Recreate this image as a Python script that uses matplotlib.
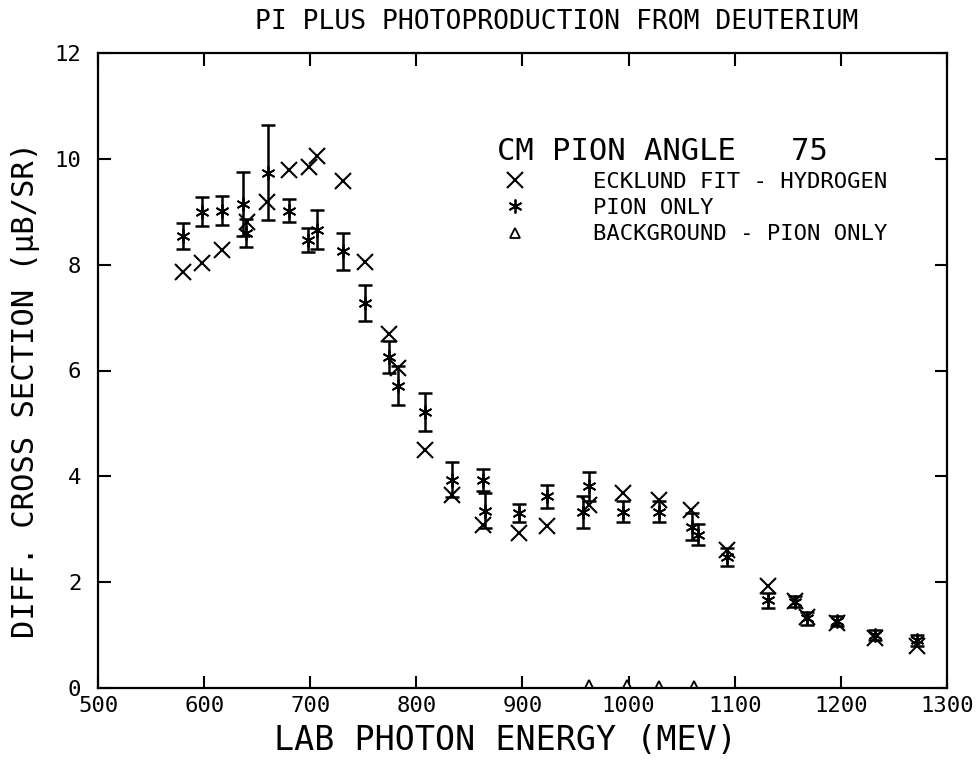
import numpy as np
import matplotlib
matplotlib.use('Agg')
import matplotlib.pyplot as plt

# ecklund fit - hydrogen
eck_e = [580, 598, 617, 640, 659, 680, 699, 706, 731, 752, 774, 783, 808, 834,
         863, 897, 923, 963, 995, 1029, 1059, 1093, 1131, 1157, 1168, 1196, 1232, 1272]
eck_y = [7.87, 8.03, 8.28, 8.80, 9.19, 9.78, 9.85, 10.06, 9.59, 8.05, 6.69, 6.04, 4.49, 3.65,
         3.08, 2.93, 3.06, 3.46, 3.68, 3.55, 3.36, 2.61, 1.93, 1.65, 1.35, 1.22, 0.95, 0.80]

# pion only
pion_e = [580, 598, 617, 637, 639, 660, 680, 698, 706, 731, 752, 774, 783, 808, 834,
          863, 865, 897, 923, 957, 963, 995, 1029, 1060, 1065, 1093, 1131, 1157, 1168,
          1196, 1232, 1272]
pion_y = [8.54, 9.00, 9.02, 9.15, 8.60, 9.74, 9.02, 8.47, 8.66, 8.25, 7.27, 6.25, 5.71, 5.22, 3.94,
          3.93, 3.35, 3.30, 3.62, 3.33, 3.81, 3.33, 3.33, 3.05, 2.90, 2.48, 1.66, 1.63, 1.32,
          1.27, 1.00, 0.90]
pion_err = [0.25, 0.27, 0.27, 0.60, 0.27, 0.89, 0.22, 0.23, 0.37, 0.35, 0.34, 0.30, 0.37, 0.36, 0.33,
            0.20, 0.33, 0.17, 0.22, 0.30, 0.27, 0.20, 0.20, 0.25, 0.20, 0.17, 0.14, 0.10, 0.12,
            0.10, 0.10, 0.10]

# background - pion only
bg_e = [963, 998, 1029, 1062]
bg_y = [0.06, 0.05, 0.03, 0.03]

plt.rcParams['font.family'] = ['DejaVu Sans Mono']

fig = plt.figure(figsize=(9.77, 7.62), dpi=100)
ax = fig.add_axes([98/977., 1-688/762., (947-98)/977., (688-53)/762.])

ax.plot(eck_e, eck_y, 'x', color='k', ms=11, mew=1.5, ls='none', label='ECKLUND FIT - HYDROGEN')
ax.errorbar(pion_e, pion_y, yerr=pion_err, fmt='none', ecolor='k', elinewidth=1.8, capsize=5, capthick=1.8)
ax.plot(pion_e, pion_y, marker=(6, 2, 0), color='k', ms=10, mew=1.3, ls='none', label='PION ONLY')
ax.plot(bg_e, bg_y, '^', mfc='white', mec='k', ms=7, mew=1.3, ls='none', label='BACKGROUND - PION ONLY')

ax.set_xlim(500, 1300)
ax.set_ylim(0, 12)
ax.set_xticks(np.arange(500, 1301, 100))
ax.set_yticks(np.arange(0, 13, 2))
ax.tick_params(direction='in', length=9, width=1.5, top=True, right=True, labelsize=16)
ax.tick_params(axis='y', pad=12)
ax.tick_params(axis='x', pad=6)
for s in ax.spines.values():
    s.set_linewidth(1.6)

fig.text(0.570, 0.971, 'PI PLUS PHOTOPRODUCTION FROM DEUTERIUM', ha='center', va='center', fontsize=19)
fig.text(0.517, 0.028, 'LAB PHOTON ENERGY (MEV)', ha='center', va='center', fontsize=24)
fig.text(0.026, 0.488, 'DIFF. CROSS SECTION (\u00b5B/SR)', ha='center', va='center', fontsize=22, rotation=90)

leg = ax.legend(title='CM PION ANGLE   75', title_fontsize=22, fontsize=16, frameon=False,
                loc='upper left', bbox_to_anchor=(490/977., 1-130/762.), bbox_transform=fig.transFigure,
                borderpad=0.3, handlelength=1.64, handletextpad=2.7, labelspacing=0.28,
                alignment='left', borderaxespad=0)

fig.savefig('out.png', dpi=100)
